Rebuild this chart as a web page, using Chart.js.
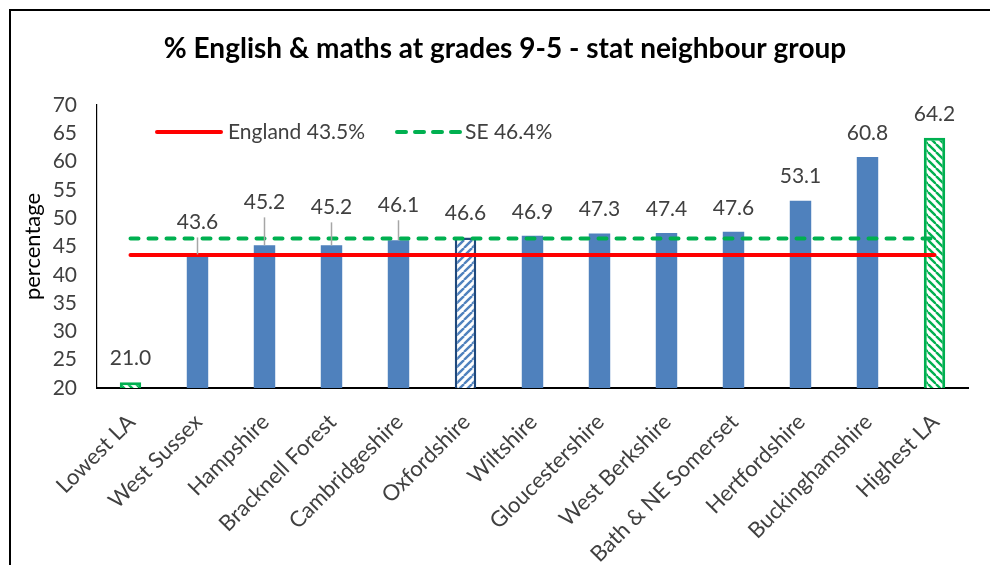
<!DOCTYPE html>
<html><head><meta charset="utf-8">
<script src="https://cdn.jsdelivr.net/npm/chart.js@4.4.1/dist/chart.umd.min.js"></script>
<style>
html,body{margin:0;padding:0;background:#fff;overflow:hidden;width:990px;height:565px}
#frame{position:absolute;left:9px;top:9px;width:1010px;height:600px;border:2px solid #000;box-sizing:border-box}
#wrap{position:absolute;left:0;top:0;width:990px;height:565px}
</style></head><body>
<div id="frame"></div>
<div id="wrap"><canvas id="c" width="990" height="565"></canvas></div>
<script>
// ---- data ----
const categories = ['Lowest LA','West Sussex','Hampshire','Bracknell Forest','Cambridgeshire','Oxfordshire','Wiltshire','Gloucestershire','West Berkshire','Bath & NE Somerset','Hertfordshire','Buckinghamshire','Highest LA'];
const values = [21.0, 43.6, 45.2, 45.2, 46.1, 46.6, 46.9, 47.3, 47.4, 47.6, 53.1, 60.8, 64.2];
const englandAverage = 43.5;
const southEastAverage = 46.4;
const englandLabel = 'England 43.5%';
const southEastLabel = 'SE 46.4%';
const yTickValues = [20, 25, 30, 35, 40, 45, 50, 55, 60, 65, 70];
const titleText = '% English & maths at grades 9-5 - stat neighbour group';
const yAxisTitle = 'percentage';

// ---- styling helpers ----
function hatch(stripe, dir) {
  const s = 8;
  const c = document.createElement('canvas');
  c.width = s; c.height = s;
  const g = c.getContext('2d');
  g.fillStyle = '#fff'; g.fillRect(0, 0, s, s);
  g.strokeStyle = stripe; g.lineWidth = 2.4;
  for (let k = -1; k <= 1; k++) {
    g.beginPath();
    if (dir === 'down') { g.moveTo(k * s, 0); g.lineTo(k * s + s, s); }
    else { g.moveTo(k * s, s); g.lineTo(k * s + s, 0); }
    g.stroke();
  }
  return g.createPattern(c, 'repeat');
}
const ctx = document.getElementById('c').getContext('2d');
const greenHatch = hatch('#00B050', 'down');
const blueHatch = hatch('#4F81BD', 'up');
const BLUE = '#4F81BD';
const lastIdx = categories.length - 1;
const barBg = categories.map((_, i) => i === 0 || i === lastIdx ? greenHatch : (i === 5 ? blueHatch : BLUE));
const barBorder = categories.map((_, i) => i === 0 || i === lastIdx ? '#00B050' : (i === 5 ? '#1F497D' : BLUE));
const barBorderW = categories.map((_, i) => i === 0 || i === lastIdx ? 3 : (i === 5 ? 2.5 : 0));

const FONT = 'Lato, "Open Sans", sans-serif';

const chartTitle = {
  id: 'chartTitle',
  afterDraw(chart, args, opts) {
    const c = chart.ctx;
    c.save();
    c.font = 'bold 28px ' + FONT;
    c.fillStyle = '#000';
    c.textAlign = 'center';
    c.textBaseline = 'middle';
    c.fillText(opts.text, opts.x, opts.y);
    c.restore();
  }
};

const barLabels = {
  id: 'barLabels',
  afterDatasetsDraw(chart, args, opts) {
    const meta = chart.getDatasetMeta(2);
    const c = chart.ctx;
    c.save();
    c.font = '21px ' + FONT;
    c.fillStyle = '#404040';
    c.textAlign = 'center';
    c.textBaseline = 'middle';
    meta.data.forEach((bar, i) => {
      const lift = opts.lift[i] !== undefined ? opts.lift[i] : opts.defaultLift;
      const y = bar.y - lift;
      if (opts.lift[i] !== undefined) {
        c.strokeStyle = '#A6A6A6';
        c.lineWidth = 1.5;
        c.beginPath();
        c.moveTo(bar.x, y + 15);
        c.lineTo(bar.x, bar.y);
        c.stroke();
      }
      c.fillText(values[i].toFixed(1), bar.x, y);
    });
    c.restore();
  }
};

const customLegend = {
  id: 'customLegend',
  afterDraw(chart) {
    const c = chart.ctx;
    const a = chart.chartArea;
    const y = a.top + 27;
    const x0 = a.left + 60;
    c.save();
    c.lineWidth = 4;
    c.lineCap = 'round';
    c.strokeStyle = '#FF0000';
    c.beginPath(); c.moveTo(x0, y); c.lineTo(x0 + 64, y); c.stroke();
    c.font = '21px ' + FONT;
    c.fillStyle = '#404040';
    c.textBaseline = 'middle';
    c.fillText(chart.data.datasets[0].label, x0 + 71, y);
    const x1 = x0 + 238;
    c.strokeStyle = '#00B050';
    c.setLineDash([9, 9]);
    c.beginPath(); c.moveTo(x1 + 2, y); c.lineTo(x1 + 66, y); c.stroke();
    c.setLineDash([]);
    c.fillText(chart.data.datasets[1].label, x1 + 70, y);
    c.restore();
  }
};

new Chart(ctx, {
  data: {
    labels: categories,
    datasets: [
      {
        type: 'line', label: englandLabel, order: 0,
        data: [{x: categories[0], y: englandAverage}, {x: categories[lastIdx], y: englandAverage}],
        borderColor: '#FF0000', borderWidth: 4, pointRadius: 0, fill: false, borderCapStyle: 'round'
      },
      {
        type: 'line', label: southEastLabel, order: 0,
        data: [{x: categories[0], y: southEastAverage}, {x: categories[lastIdx], y: southEastAverage}],
        borderColor: '#00B050', borderWidth: 4, borderDash: [8, 10], borderCapStyle: 'round', pointRadius: 0, fill: false
      },
      {
        type: 'bar', label: 'value', order: 1,
        data: values,
        backgroundColor: barBg, borderColor: barBorder, borderWidth: barBorderW,
        borderSkipped: false,
        barPercentage: 0.32, categoryPercentage: 1
      }
    ]
  },
  options: {
    responsive: false,
    animation: false,
    layout: { padding: { left: 14, right: 22, top: 105, bottom: 0 } },
    plugins: {
      legend: { display: false },
      tooltip: { enabled: false },
      title: { display: false },
      chartTitle: { text: titleText, x: 505, y: 49 },
      barLabels: { defaultLift: 24, lift: { 1: 32, 2: 43, 3: 38, 4: 35 } }
    },
    scales: {
      x: {
        type: 'category',
        grid: { display: false, drawTicks: false },
        border: { display: true, color: '#000', width: 2 },
        ticks: {
          autoSkip: false, maxRotation: 45, minRotation: 45, padding: 21, labelOffset: 1,
          color: '#404040', font: { family: FONT, size: 22 }
        },
        afterFit(s) { s.height = 177; }
      },
      y: {
        min: 20, max: 70,
        grid: { display: false, drawTicks: false },
        border: { display: true, color: '#000', width: 1.2 },
        afterBuildTicks(s) { s.ticks = yTickValues.map(v => ({ value: v })); },
        ticks: { padding: 20, color: '#404040', font: { family: FONT, size: 21 } },
        title: { display: true, text: yAxisTitle, color: '#000', font: { family: FONT, size: 22 }, padding: { top: 6, bottom: 0 } },
        afterFit(s) { s.width = 83; }
      }
    }
  },
  plugins: [chartTitle, barLabels, customLegend]
});
</script>
</body></html>
